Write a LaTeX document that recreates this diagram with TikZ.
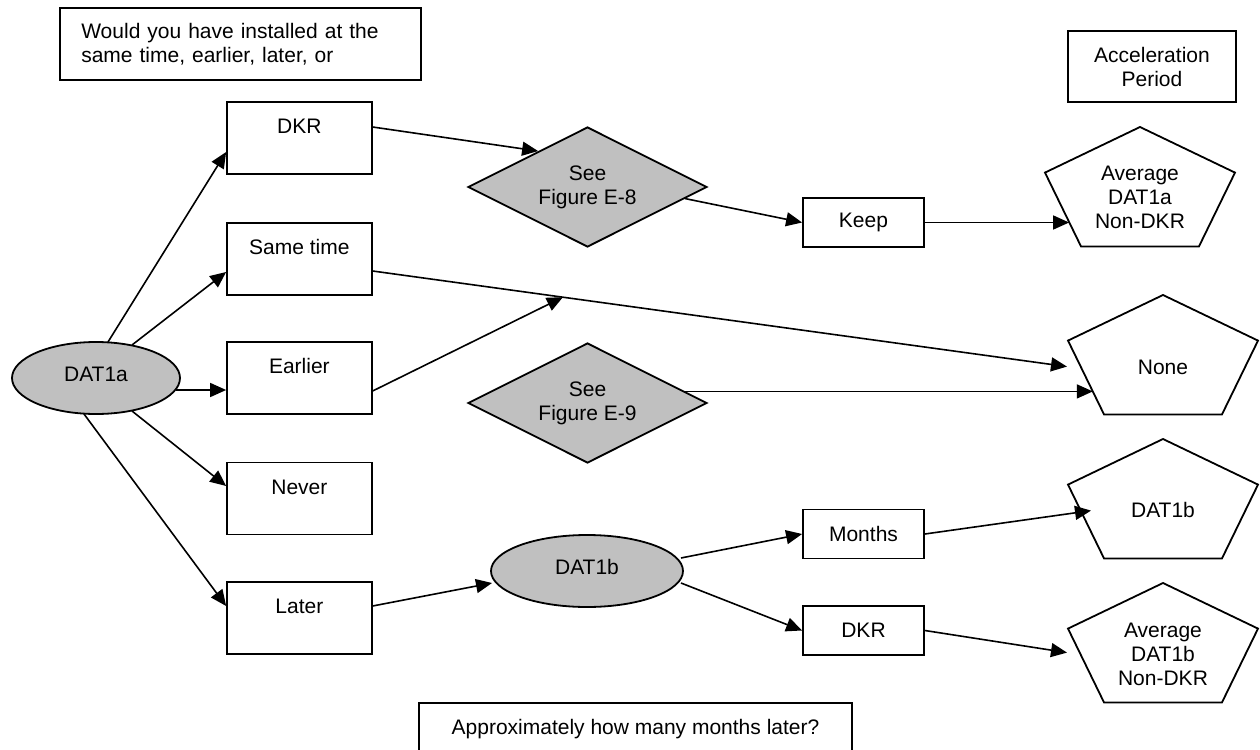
\documentclass[tikz,border=0pt]{standalone}
\usepackage{fontspec}
\setmainfont{Liberation Sans}
\usetikzlibrary{shapes.geometric,arrows.meta,calc}
\definecolor{silver}{HTML}{C0C0C0}
\begin{document}
\begin{tikzpicture}[x=0.5pt,y=-0.5pt,
  every node/.style={font=\fontsize{10.5}{12}\selectfont, align=center},
  box/.style={draw, line width=0.9pt, rectangle, inner sep=0pt},
  tallbox/.style={box, minimum width=72.35pt, text height=15.75pt, text depth=20.25pt},
  smallbox/.style={box, minimum width=60.5pt, minimum height=24.5pt},
  oval/.style={draw, ellipse, fill=silver, line width=0.9pt, inner sep=0pt, minimum height=36pt, text depth=4pt},
  dia/.style={draw, diamond, fill=silver, line width=0.9pt, inner sep=0pt, aspect=2, minimum width=119.5pt, minimum height=60pt},
  arr/.style={-{Triangle[length=8pt,width=7pt]}, line width=0.8pt},
  pent/.pic={
    \draw[line width=0.9pt, line join=miter]
      (0,-66) coordinate (-t) -- (95,-20.4) coordinate (-r) -- (59,53.4) coordinate (-br)
      -- (-59,53.4) coordinate (-bl) -- (-95,-20.4) coordinate (-l) -- cycle;
  }
]
\useasboundingbox (0,0) rectangle (1260,750);
\fill[white] (0,0) rectangle (1260,750);
\clip (0,0) rectangle (1260,750);

% text boxes
\node[box, anchor=north west, align=left, text width=159.25pt, inner xsep=10.5pt, minimum height=36pt] (q1) at (59.4,7) {Would you have installed at the\\same time, earlier, later, or};
\node[box, minimum width=84pt, minimum height=35.5pt] (acc) at (1152,66.5) {Acceleration\\Period};
\node[box, minimum width=216.5pt, text height=15.75pt, text depth=20.25pt] (q2) at (635.5,739) {Approximately how many months later?};

% left column
\node[tallbox] (dkr) at (299.4,138) {DKR};
\node[tallbox] (same) at (299.4,259) {Same time};
\node[tallbox] (earl) at (299.4,378) {Earlier};
\node[tallbox] (nev) at (299.4,498.5) {Never};
\node[tallbox] (lat) at (299.4,618) {Later};

\node[oval, minimum width=84pt] (a) at (96,378) {DAT1a};
\node[oval, minimum width=96pt] (b) at (587,571) {DAT1b};
\node[dia] (d8) at (587.5,187) {See\\Figure E-8};
\node[dia] (d9) at (587.5,403) {See\\Figure E-9};

\node[smallbox] (keep) at (863.5,222.5) {Keep};
\node[smallbox] (mon) at (863.5,534) {Months};
\node[smallbox] (dkr2) at (863.5,630.5) {DKR};

% pentagons
\pic (P1) at (1140,193) {pent};
\node (p1) at (1140,197) {Average\\DAT1a\\Non-DKR};
\pic (PN) at (1163,361) {pent};
\node (pn) at (1163,367) {None};
\pic (PB) at (1163,505) {pent};
\node (pb) at (1163,510) {DAT1b};
\pic (PQ) at (1163,649) {pent};
\node (pq) at (1163,654) {Average\\DAT1b\\Non-DKR};

% connectors from DAT1a
\draw[arr] ($(a.center)+(12,-36)$) -- ($(dkr.west)+(0,14)$);
\draw[arr] ($(a.center)+(36,-33)$) -- ($(same.west)+(0,13)$);
\draw[arr] ($(a.center)+(80,12)$) -- ($(earl.west)+(0,12)$);
\draw[arr] ($(a.center)+(36,33)$) -- ($(nev.west)+(0,-12.5)$);
\draw[arr] ($(a.center)+(-12,36)$) -- ($(lat.west)+(0,-12)$);

% upper branch
\draw[arr] ($(dkr.east)+(0,-11)$) -- ($(d8.west)!0.59!(d8.north)$);
\draw[arr] ($(d8.east)!0.19!(d8.south)$) -- (keep.west);
\coordinate (p1e) at ($(P1-l)!0.67!(P1-bl)$);
\draw[arr] (keep.east) -- (keep.east -| p1e);

% same time / earlier / E-9 to None
\coordinate (s0) at ($(same.east)+(0,12)$);
\coordinate (s1) at ($(PN-l)+(-1,26)$);
\draw[arr] (s0) -- (s1);
\draw[arr] ($(earl.east)+(0,13)$) -- ($(s0)!0.274!(s1)$);
\coordinate (ne) at ($(PN-l)!0.69!(PN-bl)$);
\coordinate (d9o) at ($(d9.north)!0.81!(d9.east)$);
\draw[arr] (d9o) -- (d9o -| ne);

% lower branch
\draw[arr] ($(lat.east)+(0,-12)$) -- ($(b.center)+(-95,12)$);
\draw[arr] ($(b.center)+(94,-13)$) -- (mon.west);
\draw[arr] ($(b.center)+(94,12)$) -- (dkr2.west);
\draw[arr] (mon.east) -- ($(PB-l)+(23,26)$);
\draw[arr] (dkr2.east) -- ($(PQ-l)+(-1,24)$);
\end{tikzpicture}
\end{document}
